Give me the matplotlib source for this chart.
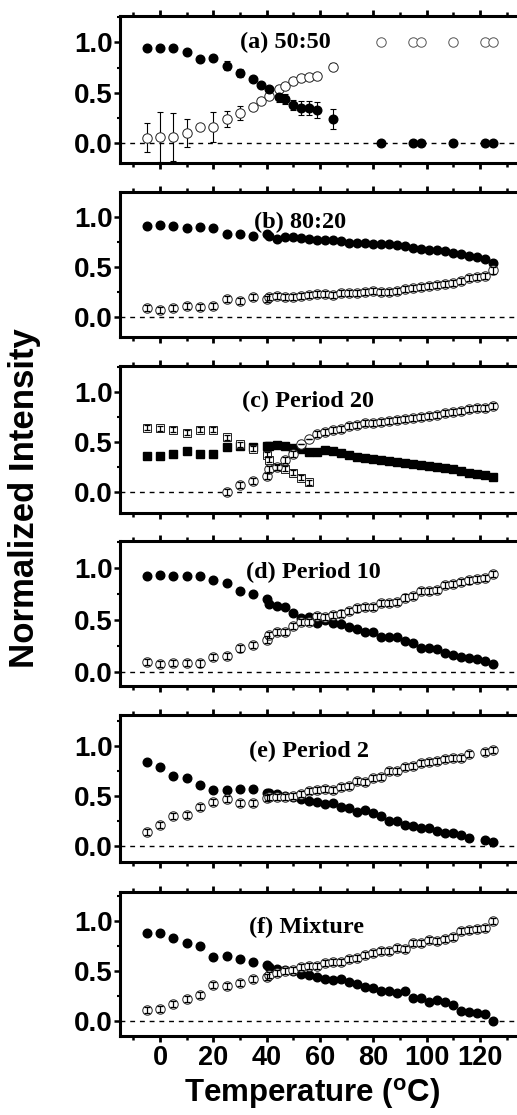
import matplotlib
matplotlib.use("Agg")
import matplotlib.pyplot as plt
from matplotlib.ticker import MultipleLocator

plt.rcParams['font.family'] = ['Liberation Sans', 'DejaVu Sans']
plt.rcParams['font.weight'] = 'bold'
plt.rcParams['mathtext.default'] = 'regular'

# ---------------- data ----------------
# (a) 50:50
T_a = [-5, 0, 5, 10, 15, 20, 25, 30, 35, 38, 41, 44.5, 47, 50, 53, 56, 59, 65]
a_fill = [0.947, 0.94, 0.94, 0.90, 0.83, 0.84, 0.77, 0.70, 0.635, 0.575, 0.535,
          0.46, 0.435, 0.38, 0.353, 0.347, 0.33, 0.24]
a_fill_err = [0.01, 0.01, 0.01, 0.01, 0.01, 0.02, 0.04, 0.04, 0.02, 0.02, 0.02,
              0.05, 0.05, 0.05, 0.07, 0.07, 0.075, 0.095]
a_open = [0.056, 0.06, 0.063, 0.105, 0.16, 0.16, 0.24, 0.30, 0.363, 0.42, 0.47,
          0.54, 0.57, 0.617, 0.645, 0.653, 0.67, 0.76]
a_open_err = [0.145, 0.245, 0.24, 0.14, 0.02, 0.145, 0.077, 0.07, 0.03, 0.03, 0.03,
              0.03, 0.03, 0.03, 0.03, 0.03, 0.03, 0.03]
T_a_high = [83, 95, 98, 110, 122, 125]
a_fill_high = [0.0, 0.0, 0.0, 0.0, 0.0, 0.0]
a_open_high = [1.0, 1.0, 1.0, 1.0, 1.0, 1.0]

# common temperature grid for (b), (c), (d), (f)
T = [-5, 0, 5, 10, 15, 20, 25, 30, 35, 40, 41, 44, 47, 50, 53, 56, 59, 62, 65, 68,
     71, 74, 77, 80, 83, 86, 89, 92, 95, 98, 101, 104, 107, 110, 113, 116, 119, 122, 125]

# (b) 80:20
b_fill = [0.91, 0.92, 0.91, 0.89, 0.90, 0.89, 0.83, 0.83, 0.81, 0.83, 0.81, 0.78, 0.80,
          0.80, 0.79, 0.78, 0.77, 0.77, 0.77, 0.76, 0.74, 0.74, 0.74, 0.73, 0.73, 0.73,
          0.72, 0.71, 0.69, 0.68, 0.67, 0.67, 0.66, 0.64, 0.63, 0.61, 0.60, 0.58, 0.54]
b_open = [0.09, 0.073, 0.096, 0.113, 0.103, 0.11, 0.18, 0.165, 0.20, 0.18, 0.20, 0.21,
          0.20, 0.205, 0.215, 0.22, 0.23, 0.23, 0.22, 0.245, 0.245, 0.245, 0.25, 0.26,
          0.255, 0.255, 0.265, 0.28, 0.29, 0.305, 0.31, 0.32, 0.33, 0.345, 0.365, 0.39,
          0.40, 0.41, 0.465]

# (c) Period 20
c_fill = [0.36, 0.36, 0.38, 0.41, 0.38, 0.38, 0.45, 0.46, 0.45, 0.46, 0.46, 0.47, 0.46,
          0.44, 0.43, 0.40, 0.40, 0.42, 0.41, 0.39, 0.37, 0.35, 0.34, 0.33, 0.32, 0.31,
          0.30, 0.29, 0.28, 0.27, 0.26, 0.25, 0.24, 0.23, 0.21, 0.19, 0.18, 0.17, 0.15]
T_c_sq = [-5, 0, 5, 10, 15, 20, 25, 30, 35, 40, 41, 44, 47, 50, 53, 56]
c_open_sq = [0.647, 0.64, 0.623, 0.597, 0.623, 0.623, 0.55, 0.48, 0.433, 0.373, 0.323,
             0.25, 0.233, 0.197, 0.147, 0.10]
T_c_circ = [25, 30, 35, 40, 41, 44, 47, 50, 53, 56, 59, 62, 65, 68, 71, 74, 77, 80, 83,
            86, 89, 92, 95, 98, 101, 104, 107, 110, 113, 116, 119, 122, 125]
c_open_circ = [0.007, 0.073, 0.113, 0.163, 0.233, 0.25, 0.323, 0.383, 0.48, 0.53, 0.583,
               0.60, 0.623, 0.633, 0.663, 0.673, 0.69, 0.697, 0.707, 0.713, 0.723, 0.733,
               0.74, 0.757, 0.763, 0.773, 0.79, 0.807, 0.817, 0.83, 0.84, 0.847, 0.863]
c_circ_err = [0.03, 0.03, 0.03, 0.03, 0.03, 0.03, 0.03, 0.03, 0.0, 0.0, 0.03, 0.03, 0.03,
              0.03, 0.03, 0.03, 0.03, 0.03, 0.03, 0.03, 0.03, 0.03, 0.03, 0.03, 0.03,
              0.03, 0.03, 0.03, 0.03, 0.03, 0.03, 0.03, 0.03]

# (d) Period 10
d_fill = [0.92, 0.93, 0.92, 0.92, 0.92, 0.88, 0.856, 0.78, 0.747, 0.70, 0.657, 0.63, 0.62,
          0.567, 0.52, 0.53, 0.47, 0.50, 0.465, 0.46, 0.43, 0.41, 0.385, 0.385, 0.337,
          0.337, 0.337, 0.30, 0.28, 0.224, 0.224, 0.215, 0.176, 0.16, 0.144, 0.135, 0.12,
          0.106, 0.07]
d_open = [0.09, 0.074, 0.087, 0.087, 0.08, 0.138, 0.15, 0.224, 0.256, 0.31, 0.35, 0.385,
          0.385, 0.44, 0.48, 0.48, 0.535, 0.53, 0.55, 0.56, 0.587, 0.61, 0.62, 0.62, 0.663,
          0.663, 0.673, 0.715, 0.728, 0.78, 0.78, 0.79, 0.833, 0.843, 0.865, 0.88, 0.89,
          0.907, 0.94]

# (e) Period 2
T_e = [-5, 0, 5, 10, 15, 20, 25, 30, 35, 40, 41, 44, 47, 50, 53, 56, 59, 62, 65, 68,
       71, 74, 77, 80, 83, 86, 89, 92, 95, 98, 101, 104, 107, 110, 113, 116, 122, 125]
e_fill = [0.843, 0.793, 0.70, 0.682, 0.609, 0.558, 0.558, 0.565, 0.565, 0.532, 0.525,
          0.518, 0.498, 0.49, 0.465, 0.448, 0.441, 0.418, 0.431, 0.391, 0.381, 0.334,
          0.358, 0.331, 0.298, 0.247, 0.247, 0.207, 0.197, 0.174, 0.174, 0.15, 0.13,
          0.124, 0.107, 0.074, 0.057, 0.04]
e_open = [0.14, 0.207, 0.298, 0.308, 0.385, 0.435, 0.468, 0.425, 0.425, 0.475, 0.485,
          0.49, 0.49, 0.498, 0.518, 0.548, 0.558, 0.569, 0.558, 0.592, 0.599, 0.652,
          0.642, 0.676, 0.686, 0.753, 0.749, 0.793, 0.80, 0.833, 0.843, 0.85, 0.87,
          0.876, 0.883, 0.92, 0.936, 0.96]

# (f) Mixture
f_fill = [0.883, 0.877, 0.833, 0.783, 0.75, 0.643, 0.653, 0.62, 0.587, 0.56, 0.537,
          0.517, 0.51, 0.50, 0.47, 0.46, 0.443, 0.42, 0.41, 0.42, 0.387, 0.37, 0.343,
          0.333, 0.30, 0.30, 0.283, 0.30, 0.227, 0.233, 0.193, 0.21, 0.193, 0.16, 0.103,
          0.093, 0.077, 0.067, 0.0]
f_open = [0.11, 0.12, 0.17, 0.217, 0.26, 0.36, 0.353, 0.377, 0.42, 0.443, 0.46, 0.477,
          0.50, 0.51, 0.537, 0.55, 0.55, 0.577, 0.593, 0.587, 0.62, 0.633, 0.66, 0.677,
          0.70, 0.703, 0.727, 0.717, 0.783, 0.777, 0.81, 0.80, 0.817, 0.843, 0.90, 0.91,
          0.92, 0.933, 1.0]

panel_titles = ['(a) 50:50', '(b) 80:20', '(c) Period 20', '(d) Period 10',
                '(e) Period 2', '(f) Mixture']
xticks = [0, 20, 40, 60, 80, 100, 120]
yticks = [0.0, 0.5, 1.0]
ylabel = 'Normalized Intensity'
xlabel = 'Temperature ($^{o}$C)'

# ---------------- layout ----------------
W, H = 517, 1115
fig = plt.figure(figsize=(W / 100, H / 100), dpi=100)
px_boxes = [(16, 163), (192, 337), (366, 513), (541, 686), (715, 862), (892, 1036)]
ylims = [(-0.195, 1.26), (-0.196, 1.245), (-0.207, 1.263), (-0.138, 1.26),
         (-0.164, 1.31), (-0.15, 1.29)]
left_px, right_px = 120, 520
title_pos = [(47, 1.0), (52.5, 0.94), (55.5, 0.91), (57.5, 0.96), (56, 0.94), (55, 0.94)]

MS = 6.2
fill_kw = dict(ls='none', marker='o', ms=MS, mfc='black', mec='black', zorder=3)
open_kw = dict(ls='none', marker='o', ms=MS + 0.6, mfc='white', mec='#222222', mew=0.7, zorder=3)
err_kw = dict(fmt='none', ecolor='black', elinewidth=0.9, capsize=2.2, capthick=0.9, zorder=4)

axes = []
for i, (top, bot) in enumerate(px_boxes):
    ax = fig.add_axes([left_px / W, 1 - bot / H, (right_px - left_px) / W, (bot - top) / H])
    ax.set_xlim(-15, 135)
    ax.set_ylim(*ylims[i])
    ax.axhline(0, color='black', ls=(0, (3.5, 3.5)), lw=1.0, zorder=1)
    for s in ax.spines.values():
        s.set_linewidth(2.2)
    ax.xaxis.set_major_locator(MultipleLocator(20))
    ax.xaxis.set_minor_locator(MultipleLocator(10))
    ax.set_yticks(yticks)
    ax.yaxis.set_minor_locator(MultipleLocator(0.25))
    ax.tick_params(axis='x', which='both', direction='out', top=True, bottom=True,
                   labelbottom=(i == 5), labelsize=19.5, pad=2)
    ax.tick_params(axis='x', which='major', length=4.5, width=2)
    ax.tick_params(axis='x', which='minor', length=3, width=1.8)
    ax.tick_params(axis='y', which='major', direction='out', length=4, width=1.8,
                   labelsize=20, pad=1)
    ax.tick_params(axis='y', which='minor', direction='out', length=2.5, width=1.5)
    ax.set_yticklabels(['0.0', '0.5', '1.0'])
    ax.text(title_pos[i][0], title_pos[i][1], panel_titles[i], ha='center', va='center',
            family='Liberation Serif', fontweight='bold', fontsize=17.5, zorder=6)
    axes.append(ax)

# (a)
ax = axes[0]
ax.errorbar(T_a, a_open, yerr=a_open_err, fmt='none', ecolor='black', elinewidth=0.8,
            capsize=2.5, capthick=0.8, zorder=2)
ax.plot(T_a, a_open, **open_kw)
ax.errorbar(T_a, a_fill, yerr=a_fill_err, fmt='none', ecolor='black', elinewidth=0.8,
            capsize=2.5, capthick=0.8, zorder=2)
ax.plot(T_a, a_fill, **fill_kw)
ax.plot(T_a_high, a_fill_high, **fill_kw)
ax.plot(T_a_high, a_open_high, **dict(open_kw, mec='#555555'))

# (b)
ax = axes[1]
ax.plot(T, b_fill, **fill_kw)
ax.plot(T, b_open, **open_kw)
ax.errorbar(T, b_open, yerr=0.03, **err_kw)

# (c)
ax = axes[2]
ax.plot(T, c_fill, ls='none', marker='s', ms=MS, mfc='black', mec='black', zorder=3)
ax.plot(T_c_sq, c_open_sq, ls='none', marker='s', ms=MS - 0.5, mfc='white',
        mec='#222222', mew=0.7, zorder=3)
ax.errorbar(T_c_sq, c_open_sq, yerr=0.025, **err_kw)
ax.plot(T_c_circ, c_open_circ, **open_kw)
ax.errorbar(T_c_circ, c_open_circ, yerr=c_circ_err, **err_kw)

# (d)
ax = axes[3]
ax.plot(T, d_fill, **fill_kw)
ax.plot(T, d_open, **open_kw)
ax.errorbar(T, d_open, yerr=0.03, **err_kw)

# (e)
ax = axes[4]
ax.plot(T_e, e_fill, **fill_kw)
ax.plot(T_e, e_open, **open_kw)
ax.errorbar(T_e, e_open, yerr=0.03, **err_kw)

# (f)
ax = axes[5]
ax.plot(T, f_fill, **fill_kw)
ax.plot(T, f_open, **open_kw)
ax.errorbar(T, f_open, yerr=0.03, **err_kw)
ax.set_xticks(xticks)

fig.text(25 / W, 1 - 498 / H, ylabel, rotation=90, ha='center', va='center',
         fontsize=25, fontweight='bold')
fig.text(312 / W, 1 - 1094 / H, xlabel, ha='center', va='center',
         fontsize=22.5, fontweight='bold')

fig.savefig('out.png', dpi=100)
